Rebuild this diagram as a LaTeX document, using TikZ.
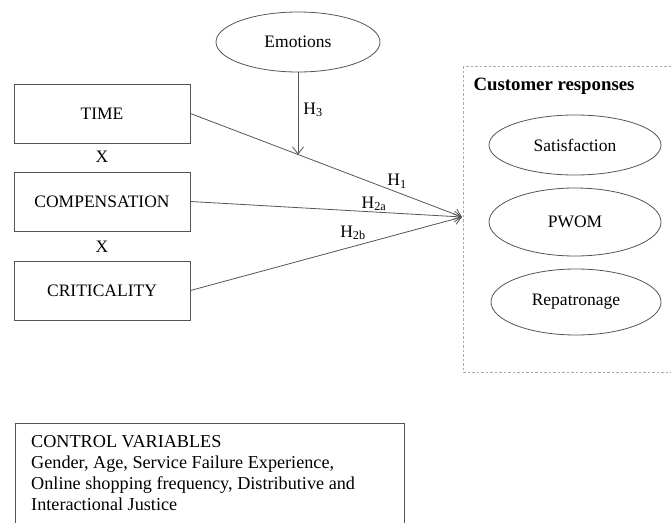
\documentclass[tikz,border=0pt]{standalone}
\usepackage{fontspec}
\setmainfont{Liberation Serif}
\usetikzlibrary{shapes.geometric,arrows.meta}
\definecolor{linegray}{HTML}{555555}
\definecolor{dashgray}{HTML}{AAAAAA}
\tikzset{
  varbox/.style={draw=linegray, line width=0.9pt, minimum width=176pt, minimum height=59pt, inner sep=0pt, font=\fontsize{17.5}{21}\selectfont},
  varell/.style={ellipse, draw=linegray, line width=0.8pt, inner sep=0pt, font=\fontsize{17.5}{21}\selectfont},
  hyp/.style={draw=linegray, line width=0.8pt, -{Straight Barb[length=7pt,width=11pt]}},
  hlab/.style={font=\fontsize{17.5}{21}\selectfont, inner sep=0pt},
  plain/.style={font=\fontsize{17.5}{21}\selectfont, inner sep=0pt}
}
\begin{document}
\begin{tikzpicture}[x=1pt,y=-1pt]
\useasboundingbox (0,0) rectangle (671,522);
% dashed group box
\draw[dashgray, dashed, dash pattern=on 2.5pt off 2pt, line width=0.7pt] (463,66) rectangle (675,372);
\node[plain, font=\fontsize{18.8}{22}\selectfont\bfseries] (cr) at (554,86) {Customer responses};
\node[varell, minimum width=172pt, minimum height=60pt] (sat) at (575,145) {Satisfaction};
\node[varell, minimum width=172pt, minimum height=68pt] (pwom) at (575,222) {PWOM};
\node[varell, minimum width=170pt, minimum height=66pt] (rep) at (576,302) {Repatronage};
% emotions
\node[varell, minimum width=164pt, minimum height=60pt] (emo) at (298,42) {Emotions};
% variable boxes
\node[varbox] (time) at (102,113.5) {TIME};
\node[varbox] (comp) at (102,201.5) {COMPENSATION};
\node[varbox] (crit) at (102,290.5) {CRITICALITY};
\node[plain] (x1) at (102,157) {X};
\node[plain] (x2) at (102,247) {X};
% connectors
\coordinate (tgt) at (462,217);
\coordinate (h3end) at (298,154.5);
\draw[hyp] (time.east) -- (tgt);
\draw[hyp] (comp.east) -- (tgt);
\draw[hyp] (crit.east) -- (tgt);
\draw[hyp] (emo.south) -- (h3end);
\node[hlab] (h3) at (313,110) {H\textsubscript{3}};
\node[hlab] (h1) at (397,181) {H\textsubscript{1}};
\node[hlab] (h2a) at (374,204) {H\textsubscript{2a}};
\node[hlab] (h2b) at (353,233) {H\textsubscript{2b}};
% control variables
\draw[linegray, line width=0.9pt] (15,530) -- (15,423) -- (404,423) -- (404,530);
\node[plain, anchor=north west, align=left, font=\fontsize{18.2}{21}\selectfont] (ctrl) at (31,435)
  {CONTROL VARIABLES\\Gender, Age, Service Failure Experience,\\Online shopping frequency, Distributive and\\Interactional Justice};
\end{tikzpicture}
\end{document}
